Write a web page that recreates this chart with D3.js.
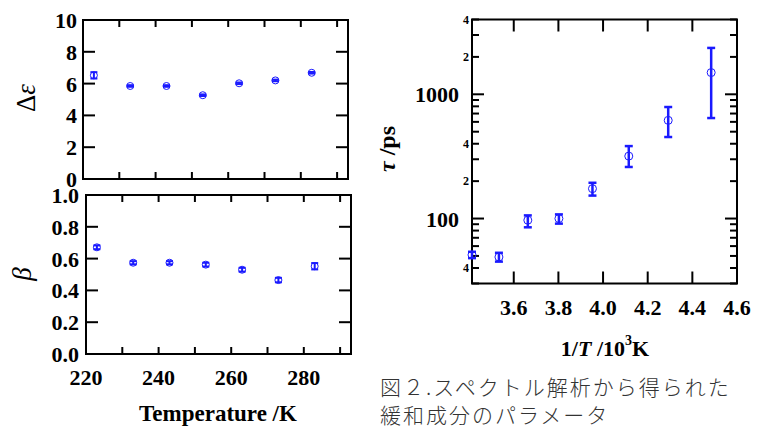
<!DOCTYPE html>
<html>
<head>
<meta charset="utf-8">
<title></title>
<script src="https://cdn.jsdelivr.net/npm/d3@7"></script>
<style>
body { margin: 0; background: #fff; }
text { font-family: "Liberation Serif", "DejaVu Serif", serif; }
</style>
</head>
<body>
<script>
const width = 759
const height = 428

// data
const temps = [223, 233, 243, 253, 263, 273, 283]
const deltaEps = [6.52, 5.85, 5.85, 5.27, 6.02, 6.2, 6.68]
const deltaEpsErr = [0.2, 0.05, 0.05, 0.05, 0.05, 0.05, 0.05]
const beta = [0.671, 0.574, 0.574, 0.562, 0.53, 0.465, 0.552]
const betaErr = [0.012, 0.01, 0.01, 0.012, 0.012, 0.014, 0.02]

const tauTemps = [293, 283, 273, 263, 253, 243, 233, 223]
const tau = [51, 49, 97, 100, 174, 318, 617, 1496]
const tauHi = [54, 53, 106, 108, 194, 383, 790, 2362]
const tauLo = [48, 45, 85, 91, 153, 260, 453, 644]

const tempTicks = [220, 240, 260, 280]
const epsTicks = [0, 2, 4, 6, 8, 10]
const betaTicks = [0, 0.2, 0.4, 0.6, 0.8, 1.0]
const invTTicks = [3.6, 3.8, 4.0, 4.2, 4.4, 4.6]

const blue = '#1a1aff'

const svg = d3.select('body').append('svg')
    .attr('width', width)
    .attr('height', height)
svg.append('rect').attr('width', width).attr('height', height).attr('fill', '#fff')

// generic framed panel with inside ticks
function frame(x, y, xTicksAll, yTicksAll, xLen, yLen) {
  const g = svg.append('g')
  const [x0, x1] = x.range()
  const [y0, y1] = y.range()
  g.selectAll('.xt').data(xTicksAll).enter().append('line')
    .attr('x1', d => x(d)).attr('x2', d => x(d))
    .attr('y1', y0).attr('y2', y0 - xLen)
  g.selectAll('.xt2').data(xTicksAll).enter().append('line')
    .attr('x1', d => x(d)).attr('x2', d => x(d))
    .attr('y1', y1).attr('y2', y1 + xLen)
  g.selectAll('.yt').data(yTicksAll).enter().append('line')
    .attr('x1', x0).attr('x2', d => x0 + (typeof yLen === 'function' ? yLen(d) : yLen))
    .attr('y1', d => y(d)).attr('y2', d => y(d))
  g.selectAll('.yt2').data(yTicksAll).enter().append('line')
    .attr('x1', x1).attr('x2', d => x1 - (typeof yLen === 'function' ? yLen(d) : yLen))
    .attr('y1', d => y(d)).attr('y2', d => y(d))
  g.selectAll('line').attr('stroke', '#000').attr('stroke-width', 2)
  g.append('rect')
    .attr('x', x0).attr('y', y1)
    .attr('width', x1 - x0).attr('height', y0 - y1)
    .attr('fill', 'none').attr('stroke', '#000').attr('stroke-width', 2)
  return g
}

function points(xs, ys, lo, hi, r, capW, sw) {
  const g = svg.append('g')
  xs.forEach((xv, i) => {
    g.append('line').attr('x1', xv).attr('x2', xv).attr('y1', lo[i]).attr('y2', hi[i])
      .attr('stroke', blue).attr('stroke-width', sw)
    ;[lo[i], hi[i]].forEach(yy => {
      g.append('line').attr('x1', xv - capW / 2).attr('x2', xv + capW / 2)
        .attr('y1', yy).attr('y2', yy)
        .attr('stroke', blue).attr('stroke-width', sw)
    })
    g.append('circle').attr('cx', xv).attr('cy', ys[i]).attr('r', r)
      .attr('fill', 'none').attr('stroke', blue).attr('stroke-width', 1)
  })
}

// ---- top left: delta epsilon
const x1 = d3.scaleLinear().domain([220, 293]).range([83, 348])
const y1 = d3.scaleLinear().domain([0, 10]).range([179, 20])
frame(x1, y1, d3.range(230, 291, 10), epsTicks, 7, 12)
svg.append('g').selectAll('text').data(epsTicks).enter().append('text')
  .attr('x', 77).attr('y', d => y1(d) + 8)
  .attr('text-anchor', 'end').attr('font-size', 22).attr('font-weight', 'bold')
  .text(d => d)
points(temps.map(x1), deltaEps.map(y1),
  deltaEps.map((d, i) => y1(d - deltaEpsErr[i])), deltaEps.map((d, i) => y1(d + deltaEpsErr[i])),
  3.5, 7, 2)

// ---- bottom left: beta
const x2 = d3.scaleLinear().domain([220, 293]).range([86, 351])
const y2 = d3.scaleLinear().domain([0, 1]).range([354, 195])
frame(x2, y2, d3.range(230, 291, 10), betaTicks, 7, 12)
svg.append('g').selectAll('text').data(betaTicks).enter().append('text')
  .attr('x', 79).attr('y', d => y2(d) + 8)
  .attr('text-anchor', 'end').attr('font-size', 22).attr('font-weight', 'bold')
  .text(d => d3.format('.1f')(d))
svg.append('g').selectAll('text').data(tempTicks).enter().append('text')
  .attr('x', d => x2(d)).attr('y', 385)
  .attr('text-anchor', 'middle').attr('font-size', 22).attr('font-weight', 'bold')
  .text(d => d)
points(temps.map(x2), beta.map(y2),
  beta.map((d, i) => y2(d - betaErr[i])), beta.map((d, i) => y2(d + betaErr[i])),
  3.5, 7, 2)

svg.append('text').attr('x', 218).attr('y', 421)
  .attr('text-anchor', 'middle').attr('font-size', 23).attr('font-weight', 'bold')
  .text('Temperature /K')

svg.append('text').attr('transform', 'translate(35,98) rotate(-90)')
  .attr('text-anchor', 'middle').attr('font-size', 27)
  .call(t => {
    t.append('tspan').text('Δ')
    t.append('tspan').attr('font-style', 'italic').text('ε')
  })
svg.append('text').attr('transform', 'translate(31,274) rotate(-90)')
  .attr('text-anchor', 'middle').attr('font-size', 27).attr('font-style', 'italic')
  .text('β')

// ---- right: tau vs 1/T
const x3 = d3.scaleLinear().domain([1000 / 293, 4.6]).range([472, 737])
const y3 = d3.scaleLog().domain([30, 4000]).range([283.5, 19.5])
const logTicks = []
;[10, 100, 1000].forEach(dec => d3.range(1, 10).forEach(m => {
  const v = dec * m
  if (v >= 30 && v <= 4000) logTicks.push(v)
}))
frame(x3, y3, [3.6, 3.8, 4.0, 4.2, 4.4], logTicks, 12, d => (d === 100 || d === 1000) ? 12 : 7)
svg.append('g').selectAll('text').data(invTTicks).enter().append('text')
  .attr('x', d => x3(d)).attr('y', 315)
  .attr('text-anchor', 'middle').attr('font-size', 22).attr('font-weight', 'bold')
  .text(d => d3.format('.1f')(d))
svg.append('g').selectAll('text').data([100, 1000]).enter().append('text')
  .attr('x', 459).attr('y', d => y3(d) + 8)
  .attr('text-anchor', 'end').attr('font-size', 22).attr('font-weight', 'bold')
  .text(d => d)
svg.append('g').selectAll('text').data([40, 200, 400, 2000, 4000]).enter().append('text')
  .attr('x', 469).attr('y', d => y3(d) + 4)
  .attr('text-anchor', 'end').attr('font-size', 12).attr('font-weight', 'bold')
  .text(d => String(d)[0])
points(tauTemps.map(t => x3(1000 / t)), tau.map(y3), tauLo.map(y3), tauHi.map(y3), 4, 8, 2.5)

svg.append('text').attr('transform', 'translate(395,149) rotate(-90)')
  .attr('text-anchor', 'middle').attr('font-size', 24).attr('font-weight', 'bold')
  .call(t => {
    t.append('tspan').attr('font-style', 'italic').text('τ')
    t.append('tspan').text(' /ps')
  })
svg.append('text').attr('x', 605).attr('y', 356)
  .attr('text-anchor', 'middle').attr('font-size', 22).attr('font-weight', 'bold')
  .call(t => {
    t.append('tspan').text('1/')
    t.append('tspan').attr('font-style', 'italic').text('T')
    t.append('tspan').text(' /10')
    t.append('tspan').attr('font-size', 14).attr('dy', -11).text('3')
    t.append('tspan').attr('dy', 11).text('K')
  })

// caption
const caption = ['図２.スペクトル解析から得られた', '緩和成分のパラメータ']
svg.append('g').selectAll('text').data(caption).enter().append('text')
  .attr('x', 380).attr('y', (d, i) => 395 + i * 28)
  .style('font-family', '"Noto Sans CJK JP"').attr('font-weight', 300)
  .attr('font-size', 21).attr('letter-spacing', 2).attr('fill', '#333')
  .text(d => d)
</script>
</body>
</html>
